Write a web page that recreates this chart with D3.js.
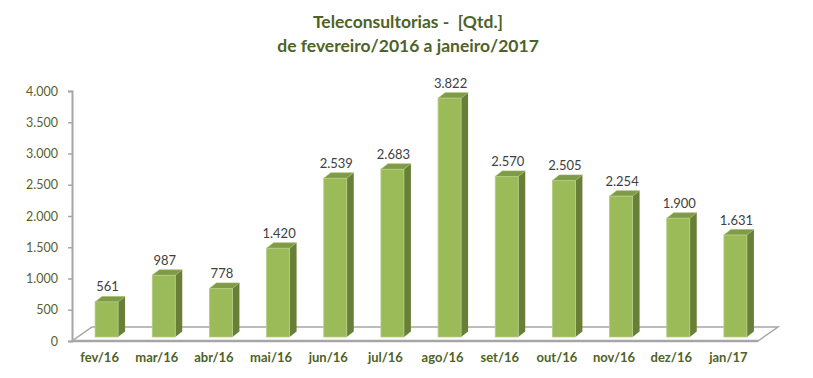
<!DOCTYPE html>
<html>
<head>
<meta charset="utf-8">
<script src="https://cdn.jsdelivr.net/npm/d3@7"></script>
<style>
  body { margin: 0; background: #fff; }
  svg { display: block; font-family: Lato, "Open Sans", sans-serif; }
  .title { white-space: pre; }
</style>
</head>
<body>
<svg id="chart" width="813" height="378"></svg>
<script>
// data
const months = ["fev/16", "mar/16", "abr/16", "mai/16", "jun/16", "jul/16",
                "ago/16", "set/16", "out/16", "nov/16", "dez/16", "jan/17"];
const qtd = [561, 987, 778, 1420, 2539, 2683, 3822, 2570, 2505, 2254, 1900, 1631];
const yTicks = [0, 500, 1000, 1500, 2000, 2500, 3000, 3500, 4000];
const titleLines = ["Teleconsultorias -  [Qtd.]", "de fevereiro/2016 a janeiro/2017"];

// brazilian number format: 4.000
const ptBR = d3.formatLocale({ decimal: ",", thousands: ".", grouping: [3], currency: ["R$", ""] });
const fmt = ptBR.format(",d");

const svg = d3.select("#chart");
const plot = { left: 72, right: 758, top: 91, bottom: 341 };
const depth = { dx: 20, dy: -14 }; // floor depth of the fake 3d
const barDepth = { dx: 7, dy: -5.5 };
const barShift = { dx: 6, dy: -4 }; // bars sit a bit into the floor

const x = d3.scaleBand().domain(months).range([plot.left, plot.right]);
const y = d3.scaleLinear().domain([0, 4000]).range([plot.bottom, plot.top]);
const barW = 23;

// title
svg.selectAll("text.title")
  .data(titleLines)
  .join("text")
  .attr("class", "title")
  .attr("x", 408)
  .attr("y", (d, i) => 28 + i * 24)
  .attr("text-anchor", "middle")
  .attr("font-size", 17.5)
  .attr("font-weight", "bold")
  .attr("fill", "#4F6228")
  .text(d => d);

// floor
const fl = [
  [plot.left, plot.bottom],
  [plot.right, plot.bottom],
  [plot.right + depth.dx, plot.bottom + depth.dy],
  [plot.left + depth.dx, plot.bottom + depth.dy]
];
svg.append("path")
  .attr("d", d3.line()(fl) + "Z")
  .attr("fill", "#fff")
  .attr("stroke", "#A6A6A6")
  .attr("stroke-width", 1.5);
svg.append("line")
  .attr("x1", plot.left).attr("x2", plot.right)
  .attr("y1", plot.bottom).attr("y2", plot.bottom)
  .attr("stroke", "#A6A6A6").attr("stroke-width", 2.5);

// y axis
const yAxis = svg.append("g")
  .attr("transform", `translate(${plot.left},0)`)
  .call(d3.axisLeft(y).tickValues(yTicks).tickFormat(fmt).tickSize(4).tickSizeOuter(4).tickPadding(10));
yAxis.select(".domain").attr("stroke", "#A6A6A6").attr("stroke-width", 2);
yAxis.selectAll(".tick line").attr("stroke", "#A6A6A6").attr("stroke-width", 1.5);
yAxis.selectAll(".tick text")
  .attr("font-family", "Lato, sans-serif")
  .attr("font-size", 12.5)
  .attr("fill", "#5B5E2E");

// bars
const bars = svg.selectAll("g.bar")
  .data(months.map((m, i) => ({ m, v: qtd[i] })))
  .join("g")
  .attr("class", "bar");

const fx = d => x(d.m) + x.bandwidth() / 2 + barShift.dx - barW / 2;
const fy0 = plot.bottom + barShift.dy;
const fyT = d => y(d.v) + barShift.dy;

// side face
bars.append("path")
  .attr("d", d => {
    const x1 = fx(d) + barW;
    return d3.line()([[x1, fy0], [x1 + barDepth.dx, fy0 + barDepth.dy],
      [x1 + barDepth.dx, fyT(d) + barDepth.dy], [x1, fyT(d)]]) + "Z";
  })
  .attr("fill", "#677F36");
// top face
bars.append("path")
  .attr("d", d => {
    const x0 = fx(d), yt = fyT(d);
    return d3.line()([[x0, yt], [x0 + barW, yt], [x0 + barW + barDepth.dx, yt + barDepth.dy],
      [x0 + barDepth.dx, yt + barDepth.dy]]) + "Z";
  })
  .attr("fill", "#7F9B48")
  .attr("stroke", "#9DB866")
  .attr("stroke-width", 0.6);
// front face
bars.append("rect")
  .attr("x", fx)
  .attr("y", fyT)
  .attr("width", barW)
  .attr("height", d => fy0 - fyT(d))
  .attr("fill", "#9BBB59")
  .attr("stroke", "#B5CE86")
  .attr("stroke-width", 0.8);

// value labels
bars.append("text")
  .attr("x", d => fx(d) + barW / 2 + 1)
  .attr("y", d => fyT(d) + barDepth.dy - 5)
  .attr("text-anchor", "middle")
  .attr("font-size", 13)
  .attr("fill", "#404040")
  .text(d => fmt(d.v));

// category labels
svg.selectAll("text.cat")
  .data(months)
  .join("text")
  .attr("class", "cat")
  .attr("x", d => x(d) + x.bandwidth() / 2 - 1)
  .attr("y", 362)
  .attr("text-anchor", "middle")
  .attr("font-size", 13)
  .attr("font-weight", "bold")
  .attr("fill", "#4F6228")
  .text(d => d);
</script>
</body>
</html>
